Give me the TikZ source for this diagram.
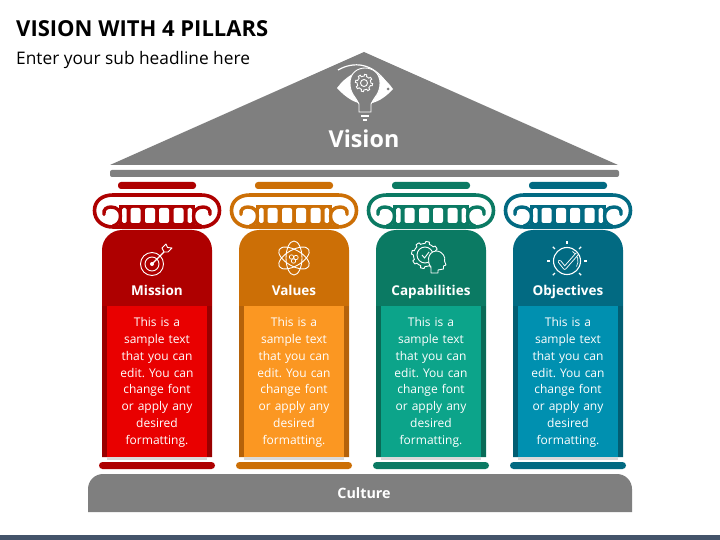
\documentclass[tikz,border=0pt]{standalone}
\usepackage{fontspec}
\setmainfont{Open Sans}
\definecolor{roofgray}{HTML}{7F7F7F}
\definecolor{footband}{HTML}{44546A}
\definecolor{redDark}{HTML}{AE0000}
\definecolor{redPanel}{HTML}{E90000}
\definecolor{redEdge}{HTML}{990000}
\definecolor{orangeDark}{HTML}{CC6F06}
\definecolor{orangePanel}{HTML}{FB9722}
\definecolor{orangeEdge}{HTML}{B5620A}
\definecolor{greenDark}{HTML}{0B7A63}
\definecolor{greenPanel}{HTML}{0CA48A}
\definecolor{greenEdge}{HTML}{096B57}
\definecolor{tealDark}{HTML}{026A82}
\definecolor{tealPanel}{HTML}{0090B0}
\definecolor{tealEdge}{HTML}{025E73}
\tikzset{
  bodytext/.style={text=white, font=\fontsize{12}{16.9}\selectfont\frenchspacing, align=center, text width=98pt, inner sep=0pt},
  headtext/.style={text=white, font=\fontsize{13.5}{16}\selectfont\bfseries, inner sep=0pt, anchor=base},
  iconline/.style={draw=white, line width=0.9pt},
}
\begin{document}
\begin{tikzpicture}[x=1pt, y=-1pt]
    \useasboundingbox (0,0) rectangle (720,540);
    \fill[white] (0,0) rectangle (720,540);
    \fill[footband] (0,535) rectangle (720,540);

    % Title lines
    \node[anchor=west, inner sep=0pt, font=\fontsize{22}{24}\selectfont\bfseries] (title) at (16, 29) {VISION WITH 4 PILLARS};
    \node[anchor=west, inner sep=0pt, font=\fontsize{17.3}{20}\selectfont] (subtitle) at (16, 60) {Enter your sub headline here};

    % Roof and the bar below it
    \fill[roofgray] (364,52) -- (618,165) -- (110,165) -- cycle;
    \fill[roofgray, rounded corners=2pt] (110,170) rectangle (619,177);
    \node[text=white, inner sep=0pt, font=\fontsize{23.3}{26}\selectfont\bfseries] (vision) at (364, 139) {Vision};

    % Eye with the bulb in it
    \begin{scope}[shift={(364,85)}]
        \draw[iconline, line width=1.2pt] (-26,-15) .. controls (-10,-24) and (8,-22) .. (22,-3);
        \fill[white] (-27,3) .. controls (-18,-9) and (-8,-14) .. (1,-14) .. controls (12,-14) and (22,-6) .. (29,4) .. controls (22,12) and (12,19) .. (1,19) .. controls (-8,19) and (-18,13) .. (-27,3) -- cycle;
        \fill[roofgray] (24,4) circle (1.5);
        \draw[iconline, fill=roofgray] (-5,27) -- (-5,19) .. controls (-8,12) and (-14,9) .. (-14,-2) .. controls (-14,-22) and (16,-22) .. (16,-2) .. controls (16,9) and (10,12) .. (7,19) -- (7,27) -- cycle;
        \draw[iconline, line width=1.2pt] (-3,31) -- (5,31);
        \draw[iconline, line width=1.2pt] (-1,35) -- (3,35);
        \draw[iconline] plot[domain=0:360, samples=97, variable=\a] ({0+(6.8+1.8*(sin(8*\a)>0?1:0))*cos(\a)}, {-2+(6.8+1.8*(sin(8*\a)>0?1:0))*sin(\a)}) -- cycle;
        \draw[iconline] (0,-2) circle (3.5);
    \end{scope}

    % Culture base
    \fill[roofgray] (88,512) -- (88,489) arc[start angle=180, end angle=270, radius=15] -- (617,474) arc[start angle=270, end angle=360, radius=15] -- (632,512) -- cycle;
    \node[text=white, inner sep=0pt, font=\fontsize{14.3}{16}\selectfont\bfseries] (culture) at (364, 493) {Culture};

    % The four pillars
    \foreach \x/\c/\head in {157/red/Mission, 294/orange/Values, 431/green/Capabilities, 568/teal/Objectives}{
        \begin{scope}[shift={(\x,0)}]
            % abacus
            \fill[\c Dark, rounded corners=3pt] (-39,182) rectangle (39,189);
            % capital, frieze first and the balusters cut out of it
            \fill[\c Dark] (-38,205.5) rectangle (38,225);
            \foreach \b in {-21.5,-7,7,21.5}{
                \fill[white, rounded corners=2pt] (\b-5,208) rectangle (\b+5,223);
            }
            \fill[white, rounded corners=1.5pt] (-35,208) rectangle (-30.5,223);
            \fill[white, rounded corners=1.5pt] (30.5,208) rectangle (35,223);
            \draw[\c Dark, line width=3.6pt, line join=round]
                (-44,195) -- (44,195) .. controls (55,195) and (62.5,201) .. (62.5,210.5) .. controls (62.5,220) and (55,227) .. (44,227)
                -- (-44,227) .. controls (-55,227) and (-62.5,220) .. (-62.5,210.5) .. controls (-62.5,201) and (-55,195) .. (-44,195) -- cycle;
            \draw[\c Dark, line width=3.4pt, line cap=round] (-53,214.5) .. controls (-54,209) and (-50,207) .. (-46,207) .. controls (-40,207) and (-36.5,211) .. (-36.5,216) .. controls (-36.5,222) and (-40,225) .. (-44,226);
            \draw[\c Dark, line width=3.4pt, line cap=round] (53,214.5) .. controls (54,209) and (50,207) .. (46,207) .. controls (40,207) and (36.5,211) .. (36.5,216) .. controls (36.5,222) and (40,225) .. (44,226);
            % shaft
            \fill[\c Dark] (-55,457) -- (-55,250) arc[start angle=180, end angle=270, radius=20] -- (35,230) arc[start angle=270, end angle=360, radius=20] -- (55,457) -- cycle;
            \fill[\c Edge] (-55,306) rectangle (55,457);
            \fill[\c Panel] (-50,306) rectangle (50,457);
            \fill[black!15] (-50,457) rectangle (50,460);
            \fill[\c Dark, rounded corners=3.5pt] (-58,462) rectangle (58,469);
            \node[headtext] (head\c) at (0, 295) {\head};
            \node[bodytext, anchor=north] (text\c) at (0, 317) {This is a\\sample text\\that you can\\edit. You can\\change font\\or apply any\\desired\\formatting.};
        \end{scope}
    }

    % Target icon
    \begin{scope}[shift={(152,264)}]
        \draw[iconline] (0,0) circle (11.5);
        \draw[iconline] (0,0) circle (7);
        \fill[white] (0,0) circle (2);
        \draw[iconline, line width=1.1pt] (0,0) -- (12,-12);
        \draw[iconline, line join=round] (12,-12) -- (10,-16) -- (14,-20) -- (15.5,-16.5) -- (20,-16) -- (16,-12) -- cycle;
    \end{scope}

    % Atom icon
    \begin{scope}[shift={(294,258)}]
        \draw[iconline] (0,0) ellipse (8 and 17);
        \draw[iconline, rotate=60] (0,0) ellipse (8 and 17);
        \draw[iconline, rotate=120] (0,0) ellipse (8 and 17);
        \draw[iconline, line width=0.7pt] (-2.5,-1) circle (2.2);
        \draw[iconline, line width=0.7pt] (2,-0.5) circle (2.2);
        \draw[iconline, line width=0.7pt] (-0.5,3) circle (2.2);
    \end{scope}

    % Gear and head icon
    \begin{scope}[shift={(425,255)}]
        \draw[iconline] plot[domain=0:360, samples=97, variable=\a] ({(11.5+2*(sin(8*\a)>0?1:0))*cos(\a)}, {(11.5+2*(sin(8*\a)>0?1:0))*sin(\a)}) -- cycle;
        \draw[iconline] (0,0) circle (8);
        \draw[iconline] (-3,0) -- (-0.5,3) -- (4,-3);
        \draw[iconline, fill=greenDark, line join=round] (6,18) -- (6,12) .. controls (2,8) and (2,-3) .. (11,-4) .. controls (18,-4) and (21,3) .. (19.5,6) -- (21,10) -- (18.5,11) -- (18.5,14) -- (13,15) -- (13,18) -- cycle;
    \end{scope}

    % Check mark icon
    \begin{scope}[shift={(567,261)}]
        \draw[iconline, line width=1.1pt] (0,0) circle (13.5);
        \draw[iconline, line width=0.7pt] (300:11) arc[start angle=300, end angle=390, radius=11];
        \draw[white, line width=3.6pt, line join=round, line cap=round] (-7.5,0.5) -- (-2.3,7) -- (10,-7);
        \draw[tealDark, line width=1.8pt, line join=round, line cap=round] (-7.5,0.5) -- (-2.3,7) -- (10,-7);
        \foreach \a in {180,225,270,315,360,45,135}{
            \draw[iconline, line width=1.1pt] (\a:17) -- (\a:20);
        }
    \end{scope}
\end{tikzpicture}
\end{document}
